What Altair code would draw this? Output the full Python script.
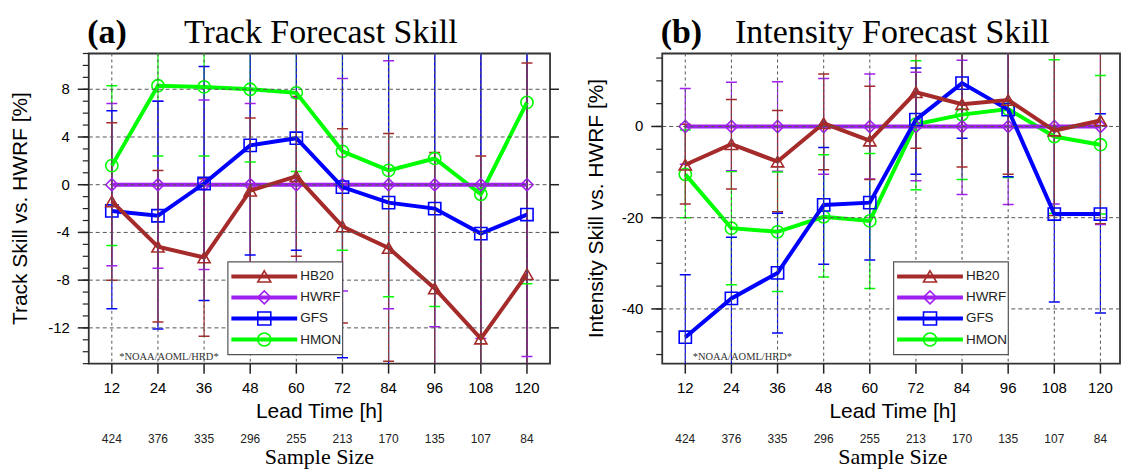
import altair as alt
import pandas as pd

# ---------------- data ----------------
lead_time = [12, 24, 36, 48, 60, 72, 84, 96, 108, 120]
sample_size = [424, 376, 335, 296, 255, 213, 170, 135, 107, 84]
models = ["HB20", "HWRF", "GFS", "HMON"]
colors = ["#A52A2A", "#A020F0", "#0000FF", "#00FF00"]
shapes = ["triangle-up", "diamond", "square", "circle"]
draw_order = ["HMON", "HWRF", "GFS", "HB20"]

# Track forecast skill (%)
track_hb20 = [-1.4, -5.2, -6.1, -0.5, 0.7, -3.5, -5.3, -8.7, -12.9, -7.5]
track_hwrf = [0, 0, 0, 0, 0, 0, 0, 0, 0, 0]
track_gfs = [-2.2, -2.6, 0.1, 3.3, 3.9, -0.2, -1.5, -2.0, -4.1, -2.5]
track_hmon = [1.6, 8.3, 8.2, 8.0, 7.7, 2.8, 1.2, 2.2, -0.8, 6.9]

track_hb20_lo = [-8.0, -11.5, -12.7, -6.6, -6.0, -11.6, -14.8, -20.1, -28.2, -25.2]
track_hb20_hi = [5.2, 1.2, 0.5, 5.6, 7.4, 4.7, 4.3, 2.7, 2.4, 10.2]
track_hwrf_lo = [-6.8, -7.0, -7.1, -6.8, -7.3, -8.9, -10.4, -11.9, -12.9, -14.4]
track_hwrf_hi = [6.8, 7.0, 7.1, 6.8, 7.3, 8.9, 10.4, 11.9, 12.9, 14.4]
track_gfs_lo = [-10.4, -12.1, -9.7, -5.9, -5.5, -14.5, -16.0, -16.0, -20.0, -16.5]
track_gfs_hi = [6.2, 7.0, 9.9, 12.5, 13.3, 14.1, 13.0, 12.0, 12.0, 13.5]
track_hmon_lo = [-5.1, 2.4, 2.4, 1.9, 1.1, -5.5, -9.4, -10.2, -16.0, -8.3]
track_hmon_hi = [8.3, 14.2, 14.0, 14.1, 14.4, 11.1, 11.8, 14.7, 14.4, 22.1]

# Intensity forecast skill (%)
int_hb20 = [-8.4, -3.9, -7.7, 0.7, -3.1, 7.5, 4.9, 5.8, -0.9, 1.3]
int_hwrf = [0, 0, 0, 0, 0, 0, 0, 0, 0, 0]
int_gfs = [-46.2, -37.7, -32.1, -17.2, -16.7, 1.5, 9.5, 3.7, -19.2, -19.2]
int_hmon = [-10.5, -22.3, -23.1, -19.8, -20.7, 0.5, 2.6, 3.8, -2.2, -4.0]

int_hb20_lo = [-17.0, -13.7, -18.7, -9.5, -11.6, -4.8, -8.9, -10.5, -19.5, -21.3]
int_hb20_hi = [0.5, 5.9, 3.5, 11.5, 8.8, 19.8, 18.7, 22.1, 17.6, 23.9]
int_hwrf_lo = [-8.3, -9.7, -9.8, -10.5, -11.5, -11.9, -14.9, -17.1, -17.0, -21.5]
int_hwrf_hi = [8.3, 9.7, 9.8, 10.5, 11.5, 11.9, 14.5, 17.1, 17.0, 21.5]
int_gfs_lo = [-60.0, -53.0, -45.3, -30.2, -29.3, -10.5, -2.6, -11.0, -38.5, -40.9]
int_gfs_hi = [-32.5, -24.3, -19.0, -4.6, -4.2, 12.8, 21.6, 18.0, 0.1, 2.8]
int_hmon_lo = [-20.0, -34.7, -36.2, -33.0, -35.5, -13.9, -11.6, -11.2, -19.0, -19.2]
int_hmon_hi = [-0.8, -9.9, -10.0, -6.2, -5.9, 14.4, 16.8, 18.8, 14.6, 11.2]

track_major = [-12, -8, -4, 0, 4, 8]
track_minor = list(range(-15, 12))
int_major = [-40, -20, 0]
int_minor = list(range(-50, 16, 5))

# ---------------- styling ----------------
SANS = "Liberation Sans, Arial, Helvetica, sans-serif"
SERIF = "Liberation Serif, Times New Roman, serif"
W, H = 462.5, 311
PX_PER_H = W / 120.0          # both panels share the same hour spacing
W_RIGHT = 459                 # right panel is cut by the page edge, as in the reference
GRID = "#555555"
TICK = "#222222"

cscale = alt.Scale(domain=models, range=colors)
sscale = alt.Scale(domain=models, range=shapes)


def build_df(vals, los, his):
    rows = []
    for m in draw_order:
        for i, t in enumerate(lead_time):
            rows.append(dict(lead=t, model=m, value=vals[m][i], lo=los[m][i], hi=his[m][i]))
    return pd.DataFrame(rows)


def txt(s):
    return pd.DataFrame({"t": [s]})


def panel(df, width, ydom, ymaj, ymin, ytitle, tag, title, title_left, leg_left, ytitle_x, right_ticks):
    xs = alt.Scale(domain=[6, 6 + width / PX_PER_H], nice=False, zero=False)
    ys = alt.Scale(domain=ydom, nice=False, zero=False)
    cx = W / 2

    base = alt.Chart(df)
    color = alt.Color("model:N", scale=cscale, legend=None)
    shape = alt.Shape("model:N", scale=sscale, legend=None)
    X = alt.X("lead:Q", axis=None)

    # scale carrier layer (fixes the domains)
    layers = [base.mark_point(opacity=0, size=1).encode(
        x=alt.X("lead:Q", scale=xs, axis=None),
        y=alt.Y("value:Q", scale=ys, axis=None))]

    # error bars
    layers.append(base.mark_rule(strokeWidth=1.2, clip=True).encode(
        x=X, y=alt.Y("lo:Q", axis=None), y2="hi:Q", color=color))
    layers.append(base.mark_tick(orient="horizontal", size=11, thickness=1.5, clip=True, opacity=1).encode(
        x=X, y=alt.Y("lo:Q", axis=None), color=color))
    layers.append(base.mark_tick(orient="horizontal", size=11, thickness=1.5, clip=True, opacity=1).encode(
        x=X, y=alt.Y("hi:Q", axis=None), color=color))

    # series
    for m in draw_order:
        sub = base.transform_filter(alt.datum.model == m)
        layers.append(sub.mark_line(strokeWidth=4, clip=True).encode(
            x=X, y=alt.Y("value:Q", axis=None), color=color))
        layers.append(sub.mark_point(filled=False, size=150, strokeWidth=1.6, opacity=1, clip=True).encode(
            x=X, y=alt.Y("value:Q", axis=None), color=color, shape=shape))

    # grid lines (drawn over the data, as in the reference)
    gx = alt.Chart(pd.DataFrame({"g": lead_time}))
    gy = alt.Chart(pd.DataFrame({"v": ymaj})).transform_calculate(lab="'' + datum.v")
    layers.append(gx.mark_rule(color=GRID, strokeWidth=1, strokeDash=[3, 3]).encode(
        x=alt.X("g:Q", axis=None), y=alt.value(0), y2=alt.value(H)))
    layers.append(gy.mark_rule(color=GRID, strokeWidth=1, strokeDash=[4, 3]).encode(
        y=alt.Y("v:Q", axis=None), x=alt.value(0), x2=alt.value(width)))

    # axes: ticks, labels, titles
    layers.append(gx.mark_rule(color=TICK, strokeWidth=1.5).encode(
        x=alt.X("g:Q", axis=None), y=alt.value(H), y2=alt.value(H + 10)))
    layers.append(gx.mark_text(font=SANS, fontSize=15, color="black", baseline="middle").encode(
        x=alt.X("g:Q", axis=None), y=alt.value(H + 24), text="g:Q"))
    layers.append(alt.Chart(txt("Lead Time [h]")).mark_text(
        font=SANS, fontSize=21, color="black", baseline="middle").encode(
        x=alt.value(cx), y=alt.value(H + 48), text="t:N"))
    layers.append(gy.mark_rule(color=TICK, strokeWidth=1.5).encode(
        y=alt.Y("v:Q", axis=None), x=alt.value(-11), x2=alt.value(0)))
    if right_ticks:
        layers.append(gy.mark_rule(color=TICK, strokeWidth=1.5).encode(
            y=alt.Y("v:Q", axis=None), x=alt.value(width), x2=alt.value(width + 9)))
    layers.append(gy.mark_text(font=SANS, fontSize=15, color="black", align="right", baseline="middle").encode(
        y=alt.Y("v:Q", axis=None), x=alt.value(-19), text="lab:N"))
    layers.append(alt.Chart(pd.DataFrame({"v": ymin})).mark_rule(color=TICK, strokeWidth=1.2).encode(
        x=alt.value(-6), x2=alt.value(0), y=alt.Y("v:Q", axis=None)))
    layers.append(alt.Chart(txt(ytitle)).mark_text(
        font=SANS, fontSize=21, color="black", angle=270, baseline="middle", align="center").encode(
        x=alt.value(ytitle_x), y=alt.value(H / 2), text="t:N"))

    # legend
    by = 209
    layers.append(alt.Chart(txt("box")).mark_rect(fill="white", stroke="#555", strokeWidth=1.2).encode(
        x=alt.value(leg_left), x2=alt.value(leg_left + 115), y=alt.value(by), y2=alt.value(by + 93)))
    for i, m in enumerate(models):
        ry = by + 14.5 + i * 21.1
        ld = pd.DataFrame({"model": [m]})
        layers.append(alt.Chart(ld).mark_rule(strokeWidth=4).encode(
            x=alt.value(leg_left + 3.5), x2=alt.value(leg_left + 69.5), y=alt.value(ry), color=color))
        layers.append(alt.Chart(ld).mark_point(filled=False, size=170, strokeWidth=1.6, opacity=1).encode(
            x=alt.value(leg_left + 36.5), y=alt.value(ry), color=color, shape=shape))
        layers.append(alt.Chart(ld).mark_text(align="left", baseline="middle", font=SANS,
                                              fontSize=13.5, color="#222").encode(
            x=alt.value(leg_left + 72.5), y=alt.value(ry), text="model:N"))

    # watermark
    layers.append(alt.Chart(txt("*NOAA/AOML/HRD*")).mark_text(
        align="left", baseline="middle", font=SERIF, fontSize=10.5, color="#333").encode(
        x=alt.value(30.5), y=alt.value(304), text="t:N"))

    # sample sizes
    sdf = pd.DataFrame({"lead": lead_time, "sample": sample_size})
    layers.append(alt.Chart(sdf).mark_text(baseline="middle", font=SANS, fontSize=12, color="#222").encode(
        x=X, y=alt.value(387), text="sample:Q"))
    layers.append(alt.Chart(txt("Sample Size")).mark_text(
        align="center", baseline="alphabetic", font=SERIF, fontSize=22, color="black").encode(
        x=alt.value(cx), y=alt.value(412), text="t:N"))

    # panel title
    layers.append(alt.Chart(txt(tag)).mark_text(
        align="left", baseline="alphabetic", font=SERIF, fontSize=34, fontWeight="bold", color="black").encode(
        x=alt.value(-1.5), y=alt.value(-11), text="t:N"))
    layers.append(alt.Chart(txt(title)).mark_text(
        align="left", baseline="alphabetic", font=SERIF, fontSize=34, color="black").encode(
        x=alt.value(title_left), y=alt.value(-11), text="t:N"))

    # invisible anchor fixing the top-left corner of the layout
    layers.append(alt.Chart(txt("a")).mark_rect(opacity=0).encode(
        x=alt.value(-87.5), x2=alt.value(-86.5), y=alt.value(-52), y2=alt.value(-51)))

    return alt.layer(*layers).properties(width=width, height=H)


track_df = build_df(
    {"HB20": track_hb20, "HWRF": track_hwrf, "GFS": track_gfs, "HMON": track_hmon},
    {"HB20": track_hb20_lo, "HWRF": track_hwrf_lo, "GFS": track_gfs_lo, "HMON": track_hmon_lo},
    {"HB20": track_hb20_hi, "HWRF": track_hwrf_hi, "GFS": track_gfs_hi, "HMON": track_hmon_hi},
)
int_df = build_df(
    {"HB20": int_hb20, "HWRF": int_hwrf, "GFS": int_gfs, "HMON": int_hmon},
    {"HB20": int_hb20_lo, "HWRF": int_hwrf_lo, "GFS": int_gfs_lo, "HMON": int_hmon_lo},
    {"HB20": int_hb20_hi, "HWRF": int_hwrf_hi, "GFS": int_gfs_hi, "HMON": int_hmon_hi},
)

left = panel(track_df, W, [-15, 11], track_major, track_minor, "Track Skill vs. HWRF [%]",
             "(a)", "Track Forecast Skill", 95.5, 139.5, -68, True)
right = panel(int_df, W_RIGHT, [-52, 16], int_major, int_minor, "Intensity Skill vs. HWRF [%]",
              "(b)", "Intensity Forecast Skill", 73, 232, -65, False)

chart = alt.hconcat(left, right, spacing=112, bounds="flush").properties(
    padding=0, background="white"
).configure_view(stroke="#333", strokeWidth=1.8)

chart.save("out.html", embed_options={"renderer": "svg", "actions": False})
